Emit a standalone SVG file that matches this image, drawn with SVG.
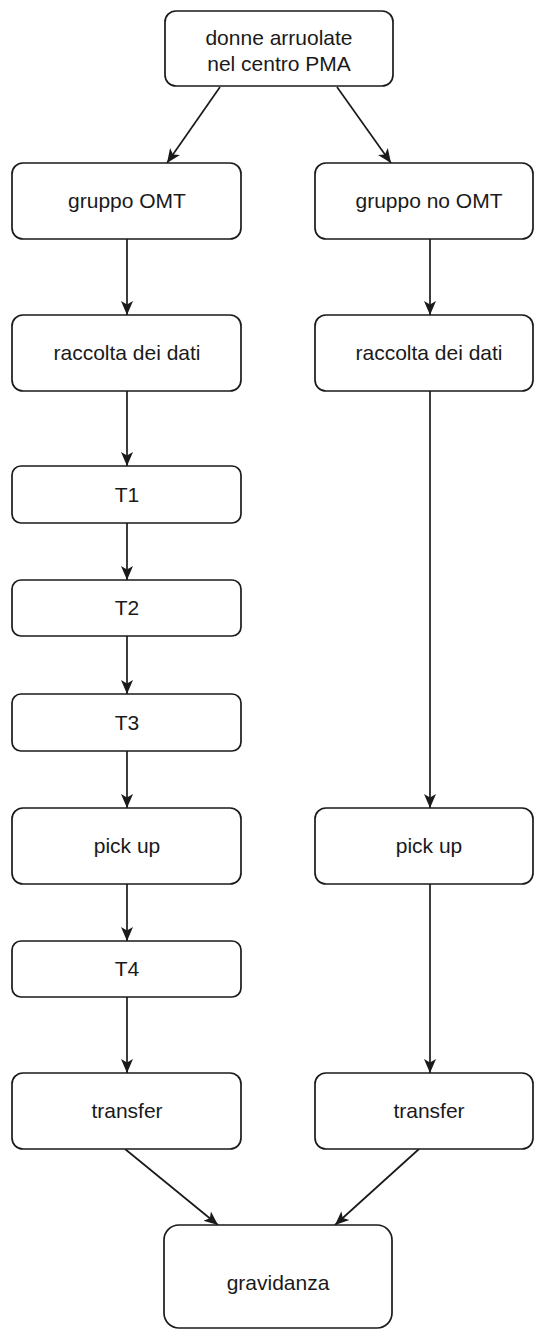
<svg xmlns="http://www.w3.org/2000/svg" width="536" height="1334" viewBox="0 0 536 1334">
<defs>
<style>
.box{fill:#fff;stroke:#1a1a1a;stroke-width:1.7}
.lbl{font-family:"Liberation Sans",Arial,sans-serif;font-size:21px;fill:#1a1a1a;text-anchor:middle}
.edge{fill:none;stroke:#1a1a1a;stroke-width:1.7}
</style>
<marker id="arr" markerUnits="userSpaceOnUse" viewBox="0 0 14 14" markerWidth="14" markerHeight="14" refX="14" refY="7" orient="auto">
<path d="M0,1 L14,7 L0,13 L3.5,7 Z" fill="#1a1a1a"/>
</marker>
</defs>
<rect width="536" height="1334" fill="#fff"/>
<g id="connectors">
<path class="edge" marker-end="url(#arr)" d="M220,87 L167,163"/>
<path class="edge" marker-end="url(#arr)" d="M337,87 L391,163"/>
<path class="edge" marker-end="url(#arr)" d="M127,239 L127,315"/>
<path class="edge" marker-end="url(#arr)" d="M430,239 L430,315"/>
<path class="edge" marker-end="url(#arr)" d="M127,391 L127,466"/>
<path class="edge" marker-end="url(#arr)" d="M127,523 L127,580"/>
<path class="edge" marker-end="url(#arr)" d="M127,636 L127,694"/>
<path class="edge" marker-end="url(#arr)" d="M127,751 L127,808"/>
<path class="edge" marker-end="url(#arr)" d="M127,884 L127,941"/>
<path class="edge" marker-end="url(#arr)" d="M127,997 L127,1073"/>
<path class="edge" marker-end="url(#arr)" d="M430,391 L430,808"/>
<path class="edge" marker-end="url(#arr)" d="M430,884 L430,1073"/>
<path class="edge" marker-end="url(#arr)" d="M125,1149 L218,1225"/>
<path class="edge" marker-end="url(#arr)" d="M419,1149 L335,1225"/>
</g>
<g id="n-top"><rect class="box" x="165" y="11" width="228" height="75" rx="11"/>
<text class="lbl" x="279" y="45">donne arruolate</text><text class="lbl" x="279" y="71">nel centro PMA</text></g>
<g id="n-omt"><rect class="box" x="12" y="163" width="229" height="76" rx="11"/><text class="lbl" x="127" y="208">gruppo OMT</text></g>
<g id="n-noomt"><rect class="box" x="315" y="163" width="218" height="76" rx="11"/><text class="lbl" x="429" y="208">gruppo no OMT</text></g>
<g id="n-racc-l"><rect class="box" x="12" y="315" width="229" height="76" rx="11"/><text class="lbl" x="127" y="360">raccolta dei dati</text></g>
<g id="n-racc-r"><rect class="box" x="315" y="315" width="218" height="76" rx="11"/><text class="lbl" x="429" y="360">raccolta dei dati</text></g>
<g id="n-t1"><rect class="box" x="12" y="466" width="229" height="57" rx="9"/><text class="lbl" x="127" y="502">T1</text></g>
<g id="n-t2"><rect class="box" x="12" y="580" width="229" height="56" rx="9"/><text class="lbl" x="127" y="615">T2</text></g>
<g id="n-t3"><rect class="box" x="12" y="694" width="229" height="57" rx="9"/><text class="lbl" x="127" y="730">T3</text></g>
<g id="n-pick-l"><rect class="box" x="12" y="808" width="229" height="76" rx="11"/><text class="lbl" x="127" y="853">pick up</text></g>
<g id="n-pick-r"><rect class="box" x="315" y="808" width="218" height="76" rx="11"/><text class="lbl" x="429" y="853">pick up</text></g>
<g id="n-t4"><rect class="box" x="12" y="941" width="229" height="56" rx="9"/><text class="lbl" x="127" y="976">T4</text></g>
<g id="n-tr-l"><rect class="box" x="12" y="1073" width="229" height="76" rx="11"/><text class="lbl" x="127" y="1118">transfer</text></g>
<g id="n-tr-r"><rect class="box" x="315" y="1073" width="218" height="76" rx="11"/><text class="lbl" x="429" y="1118">transfer</text></g>
<g id="n-grav"><rect class="box" x="164" y="1225" width="228" height="103" rx="15"/><text class="lbl" x="278" y="1290">gravidanza</text></g>
</svg>
